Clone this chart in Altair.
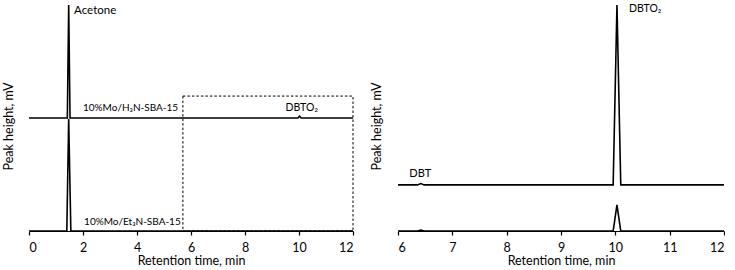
import altair as alt
import pandas as pd

FONT = "Lato"

# ---- data ----
# Left panel: overview chromatograms (arbitrary units, traces offset)
left_h3n_t = [0, 1.42, 1.47, 1.52, 9.96, 10.02, 10.08, 12]
left_h3n_v = [50, 50, 100, 50, 50, 50.8, 50, 50]
left_et3n_t = [0, 1.40, 1.47, 1.55, 12]
left_et3n_v = [0, 0, 49.6, 0, 0]

# Right panel: zoomed region 6-12 min
right_h3n_t = [6, 6.36, 6.42, 6.48, 9.96, 10.03, 10.10, 12]
right_h3n_v = [20.4, 20.4, 21.0, 20.4, 20.4, 100, 20.4, 20.4]
right_et3n_t = [6, 6.36, 6.42, 6.48, 9.96, 10.03, 10.10, 12]
right_et3n_v = [0, 0, 0.4, 0, 0, 11.6, 0, 0]

# dashed zoom box in left panel
box_t = [5.7, 12]
box_v = [0, 59.7]

# labels
left_lab_text = ["Acetone"]
left_lab_t = [1.67]
left_lab_v = [97.3]
cat_text = ["10%Mo/H₃N-SBA-15", "10%Mo/Et₃N-SBA-15"]
cat_t = [2.0, 2.04]
cat_v = [54.4, 4.0]
left_c_text = ["DBTO₂"]
left_c_t = [10.1]
left_c_v = [54.4]
right_lab_text = ["DBTO₂"]
right_lab_t = [10.25]
right_lab_v = [98.2]
right_c_text = ["DBT"]
right_c_t = [6.41]
right_c_v = [25.3]

left_ticks = [0, 2, 4, 6, 8, 10, 12]
right_ticks = [6, 7, 8, 9, 10, 11, 12]


def traces(*specs):
    rows = []
    for name, ts, vs in specs:
        for t, v in zip(ts, vs):
            rows.append({"series": name, "t": t, "v": v})
    return pd.DataFrame(rows)


def labels(texts, ts, vs):
    return pd.DataFrame({"label": texts, "t": ts, "v": vs})


W_L, W_R, H = 324, 326, 226


def panel(df, tdom, ticks, width, tpad, extra):
    xs = alt.X("t:Q", scale=alt.Scale(domain=tdom, nice=False, zero=False),
               axis=alt.Axis(values=ticks, title="Retention time, min", format="d"))
    ys = alt.Y("v:Q", scale=alt.Scale(domain=[0, 100], nice=False),
               axis=alt.Axis(title="Peak height, mV", labels=False, ticks=False,
                             domain=False, grid=False, titlePadding=tpad, titleY=121))
    lines = alt.Chart(df).mark_line(color="black", strokeWidth=1.6, clip=True).encode(
        x=xs, y=ys, detail="series:N", order="t:Q")
    return alt.layer(lines, *extra).properties(width=width, height=H)


def text_layer(df, align, size):
    return alt.Chart(df).mark_text(align=align, baseline="middle", font=FONT,
                                   fontSize=size, color="black").encode(
        x="t:Q", y="v:Q", text="label:N")


left_df = traces(("h3n", left_h3n_t, left_h3n_v), ("et3n", left_et3n_t, left_et3n_v))
right_df = traces(("h3n", right_h3n_t, right_h3n_v), ("et3n", right_et3n_t, right_et3n_v))

box_df = pd.DataFrame({"t1": [box_t[0]], "t2": [box_t[1]], "v1": [box_v[0]], "v2": [box_v[1]]})
box = alt.Chart(box_df).mark_rect(fillOpacity=0, stroke="black", strokeWidth=1,
                                  strokeDash=[2.5, 2]).encode(
    x="t1:Q", x2="t2", y="v1:Q", y2="v2")

left = panel(left_df, [0, 12], left_ticks, W_L, 14, [
    box,
    text_layer(labels(left_lab_text, left_lab_t, left_lab_v), "left", 11.5),
    text_layer(labels(cat_text, cat_t, cat_v), "left", 10),
    text_layer(labels(left_c_text, left_c_t, left_c_v), "center", 10.5),
])
right = panel(right_df, [6, 12], right_ticks, W_R, 15, [
    text_layer(labels(right_lab_text, right_lab_t, right_lab_v), "left", 10.5),
    text_layer(labels(right_c_text, right_c_t, right_c_v), "center", 11),
])

chart = alt.hconcat(left, right, spacing=45, bounds="flush").properties(
    padding={"left": 2, "top": 4, "right": 0, "bottom": 0}
).configure_view(stroke=None).configure_axis(
    labelFont=FONT, titleFont=FONT, labelFontSize=12.5, titleFontSize=12.5,
    labelColor="black", titleColor="black", titleFontWeight="normal",
    domainColor="black", tickColor="black", domainWidth=1.2, tickWidth=1.2,
    tickSize=4, labelPadding=6, titlePadding=1, grid=False,
).configure_text(font=FONT)

chart.save("out.html", embed_options={"renderer": "svg", "actions": False})
